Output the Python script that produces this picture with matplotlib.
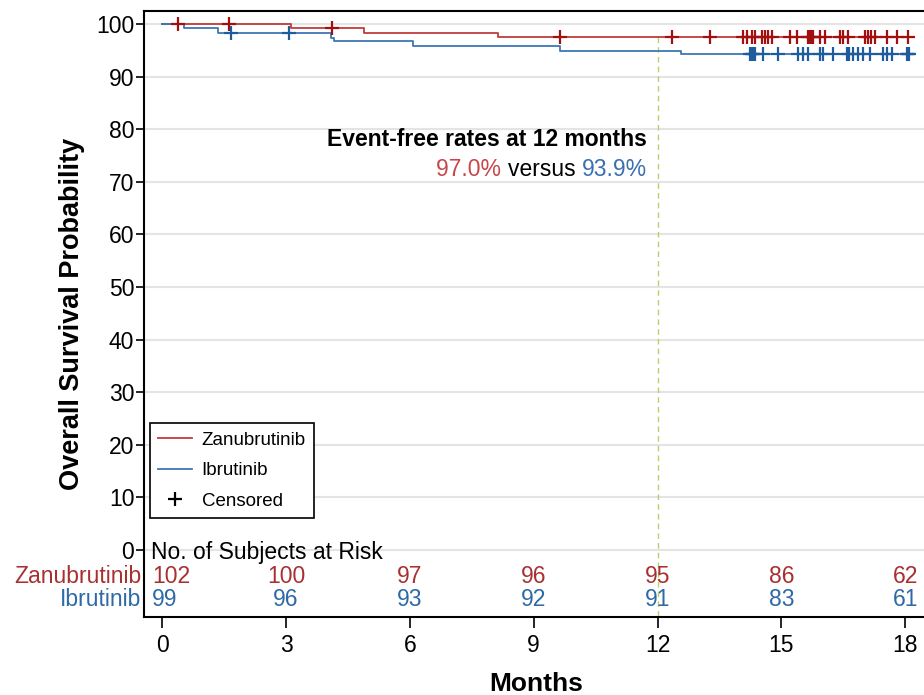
import numpy as np
import matplotlib
matplotlib.use("Agg")
import matplotlib.pyplot as plt
from matplotlib.lines import Line2D

plt.rcParams['font.family'] = ['Liberation Sans', 'DejaVu Sans']

# step curves (months, survival %)
zanu_t = [0, 3.12, 4.89, 8.14, 18.1]
zanu_s = [100, 99.2, 98.3, 97.6, 97.6]
ibru_t = [0, 0.54, 1.35, 4.10, 4.16, 6.08, 9.64, 12.57, 18.1]
ibru_s = [100, 99.2, 98.3, 97.4, 96.7, 95.9, 94.9, 94.2, 94.2]

# censor times
zanu_cens = [0.38, 1.61, 4.11, 9.64, 12.35, 13.28, 14.08, 14.16, 14.28, 14.36,
             14.52, 14.6, 14.68, 14.76, 15.21, 15.37, 15.65, 15.69, 15.73, 15.77,
             15.93, 16.05, 16.42, 16.5, 16.62, 17.02, 17.1, 17.18, 17.26, 17.55,
             17.81, 18.07]
ibru_cens = [1.67, 3.07, 14.24, 14.28, 14.32, 14.36, 14.56, 14.92, 15.41, 15.53,
             15.65, 15.93, 16.0, 16.24, 16.58, 16.64, 16.74, 16.86, 16.98, 17.14,
             17.47, 17.56, 17.69, 18.03, 18.07, 18.1]

# number at risk
risk_months = [0, 3, 6, 9, 12, 15, 18]
zanu_risk = [102, 100, 97, 96, 95, 86, 62]
ibru_risk = [99, 96, 93, 92, 91, 83, 61]

red_line = '#c23b3b'
red_mark = '#a30f0f'
red_txt = '#a83030'
blue_line = '#3d78b5'
blue_mark = '#1f5c9e'
blue_txt = '#2f69a6'


def surv_at(t, times, vals):
    idx = np.searchsorted(times, t, side='right') - 1
    return np.array(vals)[idx]


fig = plt.figure(figsize=(9.24, 6.95), dpi=100)
ax = fig.add_axes([144 / 924, 1 - 617 / 695, 784 / 924, 606 / 695])

ax.set_xlim(-0.44, 18.55)
ax.set_ylim(-12.74, 102.47)

for g in range(0, 101, 10):
    ax.axhline(g, color='#e4e4e4', lw=1.5, zorder=0)

ax.step(zanu_t, zanu_s, where='post', color=red_line, lw=1.3, zorder=3)
ax.step(ibru_t, ibru_s, where='post', color=blue_line, lw=1.3, zorder=3)

ax.plot(zanu_cens, surv_at(zanu_cens, zanu_t, zanu_s), ls='none', marker='+',
        ms=10, mew=1.6, color=red_mark, zorder=4)
ax.plot(ibru_cens, surv_at(ibru_cens, ibru_t, ibru_s), ls='none', marker='+',
        ms=10, mew=1.6, color=blue_mark, zorder=4)

# 12 month reference line
ax.plot([12, 12], [surv_at([12], zanu_t, zanu_s)[0], -12.74], color='#b9cf6e',
        lw=1, ls=(0, (4, 3)), zorder=2)

# annotation
ax.text(11.74, 78.1, 'Event-free rates at 12 months', ha='right', va='center',
        fontsize=16.5, fontweight='bold')
t3 = ax.text(11.74, 72.4, '93.9%', ha='right', va='center', fontsize=16.5, color='#3a6fb0')
t2 = ax.annotate('versus ', xy=(0, 0), xycoords=t3, ha='right', va='bottom',
                 fontsize=16.5, color='black')
ax.annotate('97.0% ', xy=(0, 0), xycoords=t2, ha='right', va='bottom',
            fontsize=16.5, color='#c8464a')

# at risk table
ax.text(-0.27, -0.4, 'No. of Subjects at Risk', ha='left', va='center', fontsize=16.5)
for i, m in enumerate(risk_months):
    x = -0.25 if m == 0 else m
    ha = 'left' if m == 0 else 'center'
    ax.text(x, -5.1, str(zanu_risk[i]), ha=ha, va='center', fontsize=16.5, color=red_txt)
    ax.text(x, -9.5, str(ibru_risk[i]), ha=ha, va='center', fontsize=16.5, color=blue_txt)
ax.text(-0.51, -5.1, 'Zanubrutinib', ha='right', va='center', fontsize=16.5,
        color=red_txt, clip_on=False)
ax.text(-0.51, -9.5, 'Ibrutinib', ha='right', va='center', fontsize=16.5,
        color=blue_txt, clip_on=False)

ax.set_yticks(range(0, 101, 10))
ax.set_xticks(risk_months)
ax.tick_params(axis='both', labelsize=16.5, width=1.2, direction='out')
ax.tick_params(axis='y', length=5.5, pad=1.5)
ax.tick_params(axis='x', length=8, pad=4)
for s in ax.spines.values():
    s.set_linewidth(1.5)

ax.set_ylabel('Overall Survival Probability', fontsize=19.5, fontweight='bold', labelpad=8)
ax.set_xlabel('Months', fontsize=19, fontweight='bold', labelpad=11)

handles = [Line2D([], [], color=red_line, lw=1.3),
           Line2D([], [], color=blue_line, lw=1.3),
           Line2D([], [], color='black', ls='none', marker='+', ms=10, mew=1.6)]
leg = ax.legend(handles, ['Zanubrutinib', 'Ibrutinib', 'Censored'], loc='upper left',
                bbox_to_anchor=(0.0077, 0.32), borderaxespad=0, fontsize=13.5,
                handlelength=1.8, labelspacing=0.72, fancybox=False, framealpha=1,
                edgecolor='black', borderpad=0.45, handletextpad=0.5)
leg.get_frame().set_linewidth(1.2)

fig.savefig('out.png', dpi=100)
